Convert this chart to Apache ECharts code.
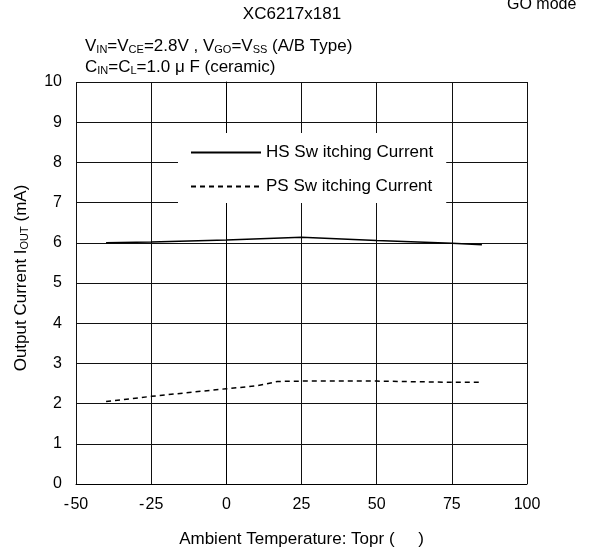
<!DOCTYPE html>
<html><head><meta charset="utf-8">
<script src="https://cdn.jsdelivr.net/npm/echarts@6/dist/echarts.min.js"></script>
<style>html,body{margin:0;padding:0;background:#fff}#c{width:592px;height:550px}</style>
</head><body><div id="c"></div>
<script>
const hsTemp = [-40, -25, 0, 25, 50, 75, 85];
const hsCurrent = [6.00, 6.02, 6.07, 6.14, 6.06, 5.99, 5.95];
const psTemp = [-40, -25, 0, 10, 17, 25, 50, 75, 85];
const psCurrent = [2.05, 2.18, 2.37, 2.44, 2.55, 2.56, 2.56, 2.53, 2.53];
const xTicks = [-50, -25, 0, 25, 50, 75, 100];
const yTicks = [0, 1, 2, 3, 4, 5, 6, 7, 8, 9, 10];
const seriesNames = ['HS Sw itching Current', 'PS Sw itching Current'];

const FONT = '"Liberation Sans", Arial, sans-serif';
const chart = echarts.init(document.getElementById('c'));
const sub = { fontSize: 11, fontFamily: FONT, fontWeight: 'normal', color: '#000', verticalAlign: 'bottom', lineHeight: 18, padding: [6, 0, 0, 0] };
const norm = { fontSize: 17, fontFamily: FONT, fontWeight: 'normal', color: '#000', lineHeight: 18 };
chart.setOption({
  animation: false,
  backgroundColor: '#fff',
  textStyle: { fontFamily: FONT, color: '#000' },
  title: [
    { text: 'XC6217x181', left: 292, top: 6, padding: 0, textAlign: 'center', textStyle: { fontSize: 17, fontWeight: 'normal', color: '#000', fontFamily: FONT } },
    { text: 'GO mode', left: 507, top: -3, padding: 0, textStyle: { fontSize: 16, fontWeight: 'normal', color: '#000', fontFamily: FONT } },
    { text: '{n|V}{s|IN}{n|=V}{s|CE}{n|=2.8V , V}{s|GO}{n|=V}{s|SS}{n| (A/B Type)}', left: 85, top: 37, padding: 0,
      textStyle: { fontWeight: 'normal', rich: { n: norm, s: sub } } },
    { text: '{n|C}{s|IN}{n|=C}{s|L}{n|=1.0 μ F (ceramic)}', left: 85, top: 58, padding: 0,
      textStyle: { fontWeight: 'normal', rich: { n: norm, s: sub } } }
  ],
  grid: { left: 76, right: 65, top: 82, bottom: 66, show: false, containLabel: false, outerBoundsMode: 'none' },
  legend: {
    orient: 'vertical', left: 178, top: 133,
    backgroundColor: '#fff', padding: [11, 13, 8, 12],
    itemWidth: 70, itemHeight: 14, itemGap: 17,
    itemStyle: { opacity: 0 },
    textStyle: { fontSize: 17, lineHeight: 14, color: '#000', fontFamily: FONT },
    data: seriesNames
  },
  xAxis: {
    type: 'value', min: -50, max: 100, interval: 25,
    name: 'Ambient Temperature: Topr (     )', nameLocation: 'middle', nameGap: 47,
    nameTextStyle: { fontSize: 17, color: '#000', fontFamily: FONT },
    axisLine: { show: true, onZero: false, lineStyle: { color: '#000', width: 1 } },
    axisTick: { show: false },
    axisLabel: { fontSize: 16, color: '#000', margin: 13, fontFamily: FONT,
      formatter: v => xTicks.includes(v) ? String(v).replace('-', '-\u200A') : '' },
    splitLine: { show: true, lineStyle: { color: '#111', width: 1 } }
  },
  yAxis: {
    type: 'value', min: 0, max: 10, interval: 1,
    name: '{n|Output Current I}{s|OUT}{n| (mA)}', nameLocation: 'middle', nameGap: 46, nameRotate: 90,
    nameTextStyle: { padding: [0, 0, 0, 10], rich: { n: norm, s: sub } },
    axisLine: { show: true, lineStyle: { color: '#000', width: 1 } },
    axisTick: { show: false },
    axisLabel: { fontSize: 16, color: '#000', margin: 14, fontFamily: FONT,
      formatter: v => yTicks.includes(v) ? String(v) : '' },
    splitLine: { show: true, lineStyle: { color: '#111', width: 1 } }
  },
  series: [
    { name: seriesNames[0], type: 'line', symbol: 'none', z: 5,
      data: hsTemp.map((t, i) => [t, hsCurrent[i]]),
      lineStyle: { color: '#000', width: 1.5, type: 'solid' }, itemStyle: { color: '#000' } },
    { name: seriesNames[1], type: 'line', symbol: 'none', z: 5,
      data: psTemp.map((t, i) => [t, psCurrent[i]]),
      lineStyle: { color: '#000', width: 1.5, type: [5, 4] }, itemStyle: { color: '#000' } }
  ]
});
</script></body></html>
